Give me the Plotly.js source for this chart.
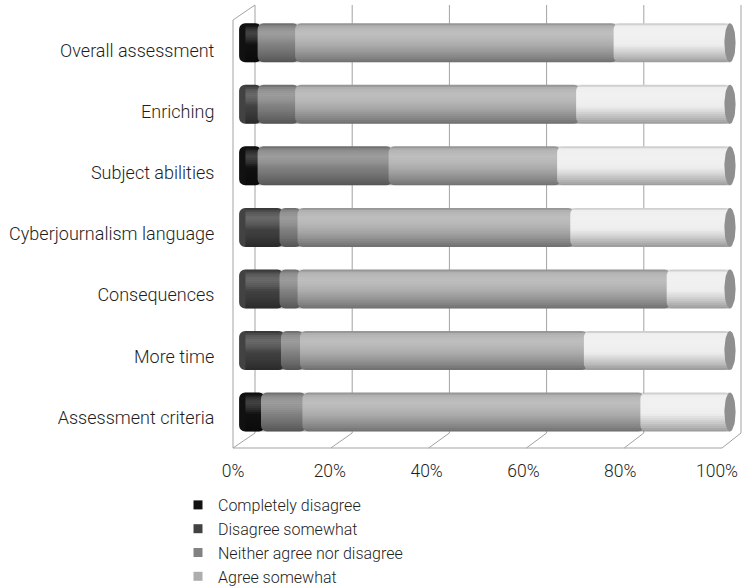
<!DOCTYPE html>
<html>
<head>
<meta charset="utf-8">
<script src="https://cdn.plot.ly/plotly-3.0.1.min.js"></script>
<style>
  html, body { margin: 0; padding: 0; background: #fff; }
  #chart { width: 743px; height: 588px; }
</style>
</head>
<body>
<div id="chart"></div>
<script>
// Survey items (top to bottom) and answer shares in percent
const categories = ['Overall assessment', 'Enriching', 'Subject abilities', 'Cyberjournalism language', 'Consequences', 'More time', 'Assessment criteria'];
const seriesNames = ['Completely disagree', 'Disagree somewhat', 'Neither agree nor disagree', 'Agree somewhat', 'Completely agree'];
const completelyDisagree = [3.8, 0, 3.8, 0, 0, 0, 4.5];
const disagreeSomewhat   = [0, 3.8, 0, 8.3, 8.3, 8.6, 0];
const neitherAgree       = [7.7, 7.7, 26.9, 3.7, 3.7, 3.9, 8.5];
const agreeSomewhat      = [65.4, 57.7, 34.6, 56.0, 75.8, 58.3, 69.4];
const completelyAgree    = [23.1, 30.8, 34.7, 32.0, 12.2, 29.2, 17.6];
const tickValues = [0, 20, 40, 60, 80, 100];
const tickLabels = ['0%', '20%', '40%', '60%', '80%', '100%'];

const series = [completelyDisagree, disagreeSomewhat, neitherAgree, agreeSomewhat, completelyAgree];
const colors = ['#111111', '#424242', '#828282', '#adadad', '#eeeeee'];

// ---- geometry of the pseudo-3D frame (pixels) ----
const W = 743, H = 588;
const M = { l: 233, r: 2, t: 5, b: 140 };
const PW = W - M.l - M.r, PH = H - M.t - M.b;
const px2x = p => (p - M.l) / PW;
const px2y = p => (H - M.b - p) / PH;

const zeroPx = 243, fullPx = 730;           // where 0% and 100% of the bars fall
const unit = (fullPx - zeroPx) / 100;
const xr = [-2, 102];
const barDomain = [px2x(zeroPx + xr[0] * unit), px2x(zeroPx + xr[1] * unit)];
const rowTop = 12.0, rowBottom = 442.8;        // outer edges of the category bands
const catDomain = [px2y(rowBottom), px2y(rowTop)];
const labelDrop = 8;                           // category labels sit at the front of the floor
const labelDomain = [px2y(rowBottom + labelDrop), px2y(rowTop + labelDrop)];
const yRange = [categories.length - 0.5, -0.5];

const ext = 0.8;      // overlap of each segment's rounded face onto the previous one
const barW = 0.634;

const traces = [];
const cum = categories.map(() => 0);
series.forEach((vals, j) => {
  const base = vals.map((v, i) => cum[i] + v);
  traces.push({
    type: 'bar', orientation: 'h', name: seriesNames[j],
    y: categories, base: base,
    x: vals.map(v => v > 0 ? -(v + ext) : null),
    width: barW,
    marker: { color: colors[j], line: { width: 0 }, cornerradius: 6 },
    showlegend: false,
    hoverinfo: 'skip'
  });
  vals.forEach((v, i) => { cum[i] += v; });
});
const totals = cum.slice();

// cylinder shading: thin horizontal bands over each bar
// (white above zero, black below zero, by height within the bar)
const shadeStops = [[0, -0.25], [0.04, -0.05], [0.10, 0.10], [0.25, 0.22], [0.40, 0.14],
                    [0.55, 0.0], [0.70, -0.10], [0.85, -0.22], [1.0, -0.36]];
const shadeAt = t => {
  for (let k = 1; k < shadeStops.length; k++) {
    const [ta, a] = shadeStops[k - 1], [tb, b] = shadeStops[k];
    if (t <= tb) return a + (b - a) * (t - ta) / (tb - ta);
  }
  return shadeStops[shadeStops.length - 1][1];
};
const nBands = 20;
const bandStart = 0.5;
for (let k = 0; k < nBands; k++) {
  const t0 = k / nBands, t1 = (k + 1) / nBands;
  const a = shadeAt((t0 + t1) / 2);
  const c = a >= 0 ? `rgba(255,255,255,${a.toFixed(3)})` : `rgba(0,0,0,${(-a).toFixed(3)})`;
  traces.push({
    type: 'bar', orientation: 'h', y: categories,
    base: totals.map(() => bandStart),
    x: totals.map(t => t - bandStart),
    offset: -barW / 2 + t0 * barW, width: (t1 - t0) * barW,
    marker: { color: c, line: { width: 0 } },
    showlegend: false, hoverinfo: 'skip'
  });
}

// elliptical end faces at the right of each cylinder (linear twin of the category axis)
const capRx = 5.6 / unit, capRy = barW / 2, nPts = 48;
const capX = [], capY = [];
totals.forEach((t, i) => {
  for (let k = 0; k <= nPts; k++) {
    const a = 2 * Math.PI * k / nPts;
    capX.push(t + capRx * Math.cos(a));
    capY.push(i + capRy * Math.sin(a));
  }
  capX.push(null); capY.push(null);
});
traces.push({
  type: 'scatter', mode: 'lines', x: capX, y: capY, yaxis: 'y3',
  fill: 'toself', fillcolor: '#8f8f8f', line: { width: 0, color: '#8f8f8f' },
  showlegend: false, hoverinfo: 'skip'
});

// legend keys (small squares)
seriesNames.slice(0, 4).forEach((n, j) => {
  traces.push({
    type: 'scatter', mode: 'markers', name: n, x: [null], y: [null],
    marker: { symbol: 'square', size: 9, color: colors[j] },
    hoverinfo: 'skip'
  });
});

// carriers for the label axes
traces.push({ type: 'scatter', x: [], y: [], xaxis: 'x2', yaxis: 'y', showlegend: false, hoverinfo: 'skip' });
traces.push({ type: 'scatter', x: [], y: [], xaxis: 'x', yaxis: 'y2', showlegend: false, hoverinfo: 'skip' });

// frame: back wall grid, floor and left wall
const gridCol = '#a3a3a3';
const shapes = [];
const line = (x0, y0, x1, y1) => shapes.push({
  type: 'line', xref: 'paper', yref: 'paper', layer: 'below',
  x0: px2x(x0), y0: px2y(y0), x1: px2x(x1), y1: px2y(y1),
  line: { color: gridCol, width: 1 }
});
const backL = 255, backStep = 97.2, frontL = 233, frontStep = 97.8;
const wallTop = 5, floorBack = 433, floorFront = 448;
tickValues.forEach((t, k) => {
  line(backL + k * backStep, wallTop, backL + k * backStep, floorBack);
  line(backL + k * backStep, floorBack, frontL + k * frontStep, floorFront);
});
line(frontL, floorFront, frontL + 5 * frontStep, floorFront);
line(frontL, 20, frontL, floorFront);
line(frontL, 20, backL, wallTop);

const fam = 'Roboto, "Open Sans", sans-serif';
const txt = '#1e1e1e';

const layout = {
  width: W, height: H,
  margin: { l: M.l, r: M.r, t: M.t, b: M.b, pad: 0, autoexpand: false },
  paper_bgcolor: '#ffffff', plot_bgcolor: 'rgba(0,0,0,0)',
  barmode: 'overlay',
  font: { family: fam, size: 16, color: txt, weight: 300 },
  showlegend: true,
  xaxis: { domain: barDomain, range: xr, visible: false, fixedrange: true },
  xaxis2: {
    domain: [px2x(233), px2x(717)], range: [0, 100],
    anchor: 'free', position: 0,
    tickmode: 'array', tickvals: tickValues, ticktext: tickLabels,
    ticks: 'outside', ticklen: 7, tickcolor: 'rgba(0,0,0,0)',
    showgrid: false, zeroline: false, showline: false,
    tickfont: { family: fam, size: 17.5, color: txt, weight: 300 }, fixedrange: true
  },
  yaxis: {
    domain: catDomain, type: 'category',
    categoryorder: 'array', categoryarray: categories,
    range: yRange, anchor: 'free', position: 0, visible: false, fixedrange: true
  },
  yaxis2: {
    domain: labelDomain, type: 'category',
    categoryorder: 'array', categoryarray: categories,
    range: yRange, anchor: 'free', position: 0,
    ticks: 'outside', ticklen: 15, tickcolor: 'rgba(0,0,0,0)',
    showgrid: false, zeroline: false, showline: false,
    tickfont: { family: fam, size: 18, color: txt, weight: 300 }, fixedrange: true
  },
  yaxis3: {
    domain: catDomain, type: 'linear', range: yRange,
    overlaying: 'y', anchor: 'x', visible: false, fixedrange: true
  },
  legend: {
    orientation: 'v', traceorder: 'normal',
    x: px2x(178), xanchor: 'left',
    y: px2y(488), yanchor: 'top',
    font: { family: fam, size: 16, color: txt, weight: 300 },
    bgcolor: 'rgba(0,0,0,0)'
  },
  shapes: shapes
};

Plotly.newPlot('chart', traces, layout, { displayModeBar: false, staticPlot: true });
</script>
</body>
</html>
